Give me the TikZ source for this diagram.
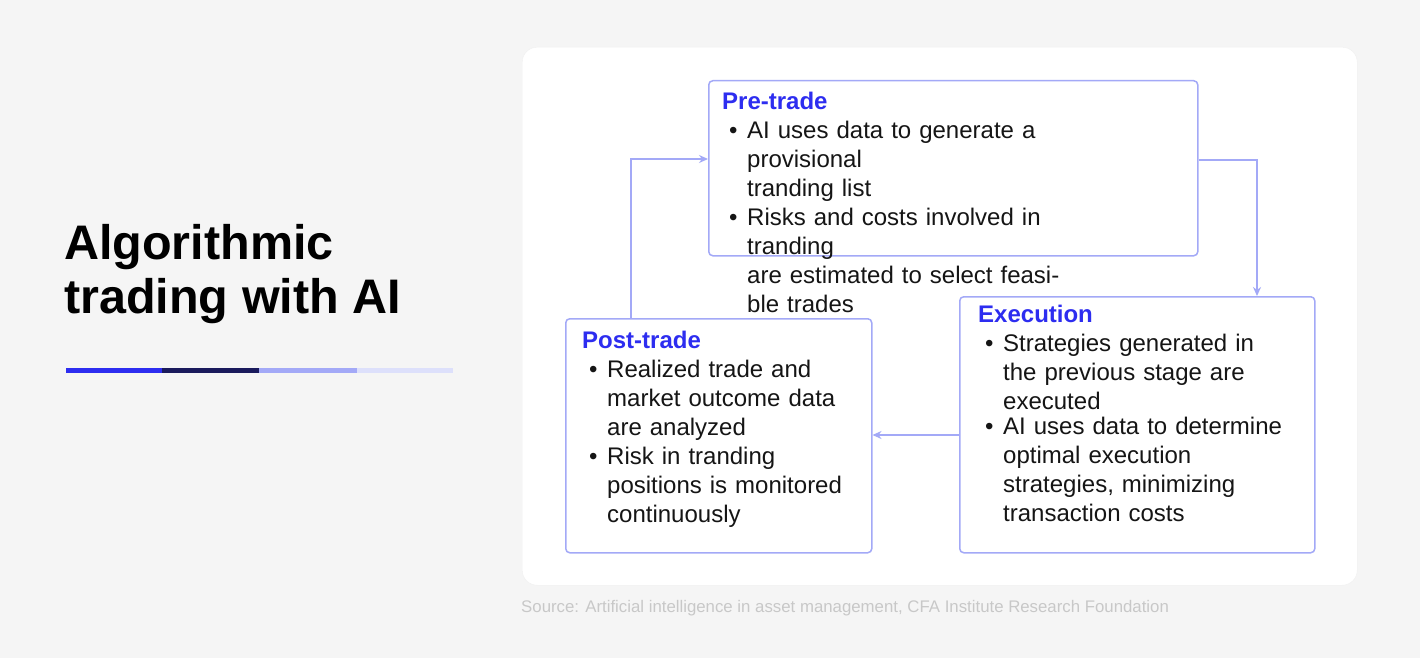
\documentclass[tikz,border=0pt]{standalone}
\usepackage{fontspec}
\setmainfont{Liberation Sans}
\usetikzlibrary{arrows.meta}
\definecolor{bg}{HTML}{F5F5F5}
\definecolor{edge}{HTML}{A3A9F7}
\definecolor{ttl}{HTML}{2D2DF0}
\definecolor{navy}{HTML}{1A1A5C}
\definecolor{lite}{HTML}{DDE0FB}
\definecolor{src}{HTML}{C8C8C8}
\definecolor{ink}{HTML}{151515}
\newcommand{\bitem}[1]{\par\vspace{6pt}\noindent\makebox[25pt][l]{\hspace{7pt}\textbullet}\parbox[t]{320pt}{#1}}
\tikzset{
  stage/.style={draw=edge, line width=1.5pt, rounded corners=4pt, fill=white},
  body/.style={anchor=north west, inner sep=0pt, text width=#1, align=left, text=ink,
    font=\fontsize{24pt}{29pt}\selectfont},
  flow/.style={draw=edge, line width=1.5pt, -{Stealth[length=9pt,width=8pt]}}
}
\begin{document}
\begin{tikzpicture}[x=1pt,y=-1pt]
\fill[bg] (0,0) rectangle (1420,658);
\useasboundingbox (0,0) rectangle (1420,658);
\fill[black!4, rounded corners=16pt] (519,46) rectangle (1361,590);
\node[draw=black!6, fill=white, rounded corners=15pt, minimum width=835pt, minimum height=538pt, anchor=north west, inner sep=0] (panel) at (522,47) {};
% title
\node[anchor=north west, inner sep=0, align=left, font=\fontsize{48.5pt}{54pt}\selectfont\bfseries, text=black] (title) at (64,224) {Algorithmic\\trading with AI};
\fill[ttl] (66,367.5) rectangle (162,372.5);
\fill[navy] (162,367.5) rectangle (259,372.5);
\fill[edge] (259,367.5) rectangle (357,372.5);
\fill[lite] (357,367.5) rectangle (453,372.5);
% boxes
\node[stage, anchor=north west, minimum width=489pt, minimum height=175pt, inner sep=0] (pre) at (708,80) {};
\node[stage, anchor=north west, minimum width=355pt, minimum height=256pt, inner sep=0] (exe) at (959,296) {};
\node[stage, anchor=north west, minimum width=306pt, minimum height=234pt, inner sep=0] (post) at (565,318) {};
% texts
\node[body=470pt] (pretext) at (722,92) {\textcolor{ttl}{\textbf{Pre-trade}}\vspace{-6pt}
\bitem{AI uses data to generate a provisional\\tranding list}
\bitem{Risks and costs involved in tranding\\are estimated to select feasible trades}};
\node[body=345pt] (exetext) at (978,305) {\textcolor{ttl}{\textbf{Execution}}\vspace{-6pt}
\bitem{Strategies generated in\\the previous stage are\\executed}
\bitem{AI uses data to determine\\optimal execution\\strategies, minimizing\\transaction costs}};
\node[body=295pt] (posttext) at (582,331) {\textcolor{ttl}{\textbf{Post-trade}}\vspace{-6pt}
\bitem{Realized trade and\\market outcome data\\are analyzed}
\bitem{Risk in tranding\\positions is monitored\\continuously}};
% arrows
\coordinate (y1) at (0,160);
\coordinate (x1) at (1257,0);
\coordinate (y2) at (0,435);
\coordinate (x3) at (631,0);
\coordinate (y3) at (0,159);
\draw[flow] (pre.east |- y1) -| (exe.north -| x1);
\draw[flow] (exe.west |- y2) -- (post.east |- y2);
\draw[flow] (post.north -| x3) |- (pre.west |- y3);
% source
\node[anchor=west, inner sep=0, text=src, font=\fontsize{16.8pt}{20pt}\selectfont] (source) at (521,608) {Source: Artificial intelligence in asset management, CFA Institute Research Foundation};
\end{tikzpicture}
\end{document}
